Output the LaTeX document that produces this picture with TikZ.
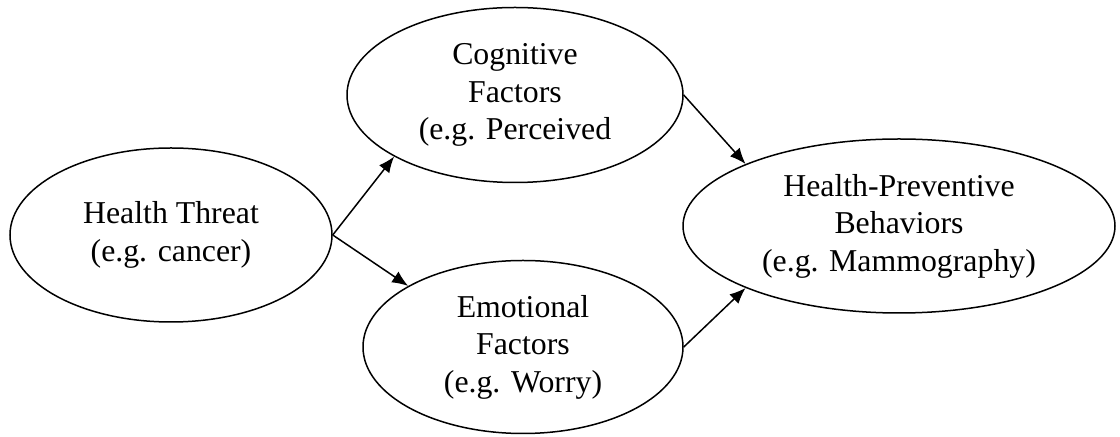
\documentclass[tikz,border=0pt]{standalone}
\usepackage{fontspec}
\setmainfont{Liberation Serif}
\usetikzlibrary{shapes.geometric,arrows.meta}
\tikzset{
    factor/.style={draw, ellipse, line width=0.75pt, inner sep=0pt, align=center,
        font=\fontsize{15.9}{18.75}\selectfont},
    link/.style={-{Latex[length=8pt,width=6.5pt]}, line width=0.75pt}
}
\begin{document}
\begin{tikzpicture}[x=0.5pt, y=-0.5pt]
        \useasboundingbox (0,0) rectangle (1120,437);
        % the four factors
        \node[factor, minimum width=161pt, minimum height=87pt] (threat) at (171,235)
            {Health Threat\\(e.g. cancer)};
        \node[factor, minimum width=168pt, minimum height=87.5pt] (cognitive) at (515,95)
            {Cognitive\\Factors\\(e.g. Perceived};
        \node[factor, minimum width=160pt, minimum height=86.5pt] (emotional) at (523,347)
            {Emotional\\Factors\\(e.g. Worry)};
        \node[factor, minimum width=216pt, minimum height=87pt] (behavior) at (899,226)
            {Health-Preventive\\Behaviors\\(e.g. Mammography)};
        % links
        \draw[link] (threat.east) -- (cognitive.207);
        \draw[link] (threat.east) -- (emotional.152);
        \draw[link] (cognitive.east) -- (behavior.158);
        \draw[link] (emotional.east) -- (behavior.202);
    \end{tikzpicture}
\end{document}
